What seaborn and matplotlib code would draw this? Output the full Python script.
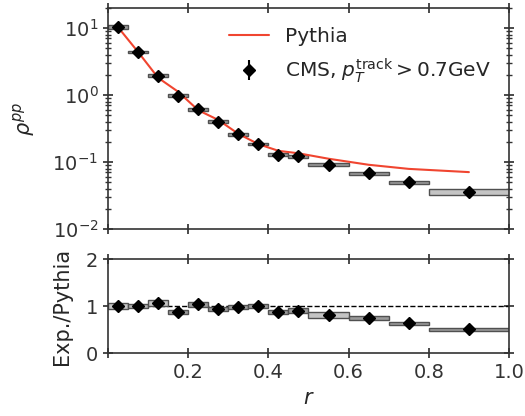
import numpy as np
import pandas as pd
import seaborn as sns
import matplotlib
matplotlib.use("Agg")
import matplotlib.pyplot as plt

# ---- data ----
bin_lo = [0.0, 0.05, 0.10, 0.15, 0.20, 0.25, 0.30, 0.35, 0.40, 0.45, 0.5, 0.6, 0.7, 0.8]
bin_hi = [0.05, 0.10, 0.15, 0.20, 0.25, 0.30, 0.35, 0.40, 0.45, 0.5, 0.6, 0.7, 0.8, 1.0]
r_center = [0.025, 0.075, 0.125, 0.175, 0.225, 0.275, 0.325, 0.375, 0.425, 0.475, 0.55, 0.65, 0.75, 0.9]
cms = [10.3, 4.4, 1.94, 0.98, 0.615, 0.40, 0.26, 0.186, 0.128, 0.122, 0.0915, 0.068, 0.050, 0.0357]
cms_stat = [0.3, 0.12, 0.05, 0.025, 0.015, 0.01, 0.007, 0.005, 0.004, 0.004, 0.003, 0.002, 0.002, 0.0015]
cms_sys_rel = [0.07, 0.05, 0.05, 0.05, 0.05, 0.05, 0.05, 0.05, 0.05, 0.05, 0.05, 0.05, 0.05, 0.09]
pythia = [10.3, 4.4, 1.81, 1.12, 0.594, 0.425, 0.264, 0.185, 0.147, 0.135, 0.112, 0.091, 0.079, 0.0707]
ratio_sys = [0.06, 0.04, 0.06, 0.04, 0.05, 0.04, 0.04, 0.05, 0.04, 0.05, 0.06, 0.04, 0.04, 0.04]

df = pd.DataFrame({"r": r_center, "pythia": pythia})
lo = np.array(bin_lo); hi = np.array(bin_hi)
y = np.array(cms); sysr = np.array(cms_sys_rel)
ratio = y / np.array(pythia)

sns.set_theme(style="ticks")
plt.rcParams['font.family'] = ['DejaVu Sans']
plt.rcParams['text.color'] = '#262626'

fig = plt.figure(figsize=(5.25, 4.16), dpi=100)
ax1 = fig.add_axes([0.2057, 0.4495, 0.7638, 0.5315])
ax2 = fig.add_axes([0.2057, 0.1507, 0.7638, 0.2267])

box_edge = '#505050'
top_faces = ['#9a9a9a'] * 13 + ['#c4c4c4']
ratio_faces = ['#c4c4c4', '#b0b0b0', '#c4c4c4'] + ['#9a9a9a'] * 7 + ['#c4c4c4'] + ['#9a9a9a'] * 3

# top panel
ax1.bar(lo, y * 2 * sysr, width=hi - lo, bottom=y * (1 - sysr), align='edge',
        color=top_faces, edgecolor=box_edge, linewidth=1.0, zorder=2)
sns.lineplot(data=df, x="r", y="pythia", ax=ax1, color='#f04530', lw=1.5,
             label='Pythia', zorder=3)
ax1.errorbar(r_center, cms, yerr=cms_stat, fmt='D', color='black', ms=6,
             elinewidth=1.5, capsize=0, zorder=4,
             label=r'CMS, $p_T^{\rm track} > 0.7$GeV')
ax1.set_yscale('log')
ax1.set_ylim(1e-2, 20)
ax1.set_xlim(0, 1.0)
ax1.set_ylabel(r'$\rho^{pp}$', fontsize=15, labelpad=11)
ax1.set_xlabel('')
ax1.set_xticks([0, 0.2, 0.4, 0.6, 0.8, 1.0])
ax1.tick_params(labelbottom=False)
leg = ax1.legend(loc='upper right', frameon=False, fontsize=14.5,
                 bbox_to_anchor=(1.0, 0.995), handlelength=2.0)

# bottom panel
ax2.bar(lo, 2 * np.array(ratio_sys), width=hi - lo, bottom=ratio - np.array(ratio_sys),
        align='edge', color=ratio_faces, edgecolor=box_edge, linewidth=1.0, zorder=2)
ax2.errorbar(r_center, ratio, yerr=np.array(cms_stat) / np.array(pythia), fmt='D',
             color='black', ms=6, elinewidth=1.5, capsize=0, zorder=4)
ax2.axhline(1.0, color='black', ls='--', lw=1.0, zorder=1)
ax2.set_xlim(0, 1.0)
ax2.set_ylim(0, 2)
ax2.set_yticks([0, 1, 2])
ax2.set_xticks([0, 0.2, 0.4, 0.6, 0.8, 1.0])
ax2.set_xticklabels(['', '0.2', '0.4', '0.6', '0.8', '1.0'])
ax2.set_ylabel('Exp./Pythia', fontsize=15, labelpad=10)
ax2.set_xlabel(r'$r$', fontsize=15)

for ax in (ax1, ax2):
    ax.tick_params(direction='inout', which='both', right=True, top=True,
                   labelsize=14, length=7, colors='#333333', labelcolor='#333333')
    ax.tick_params(which='minor', length=4)
    for s in ax.spines.values():
        s.set_color('#333333')
        s.set_linewidth(1.2)

fig.savefig('out.png', dpi=100)
